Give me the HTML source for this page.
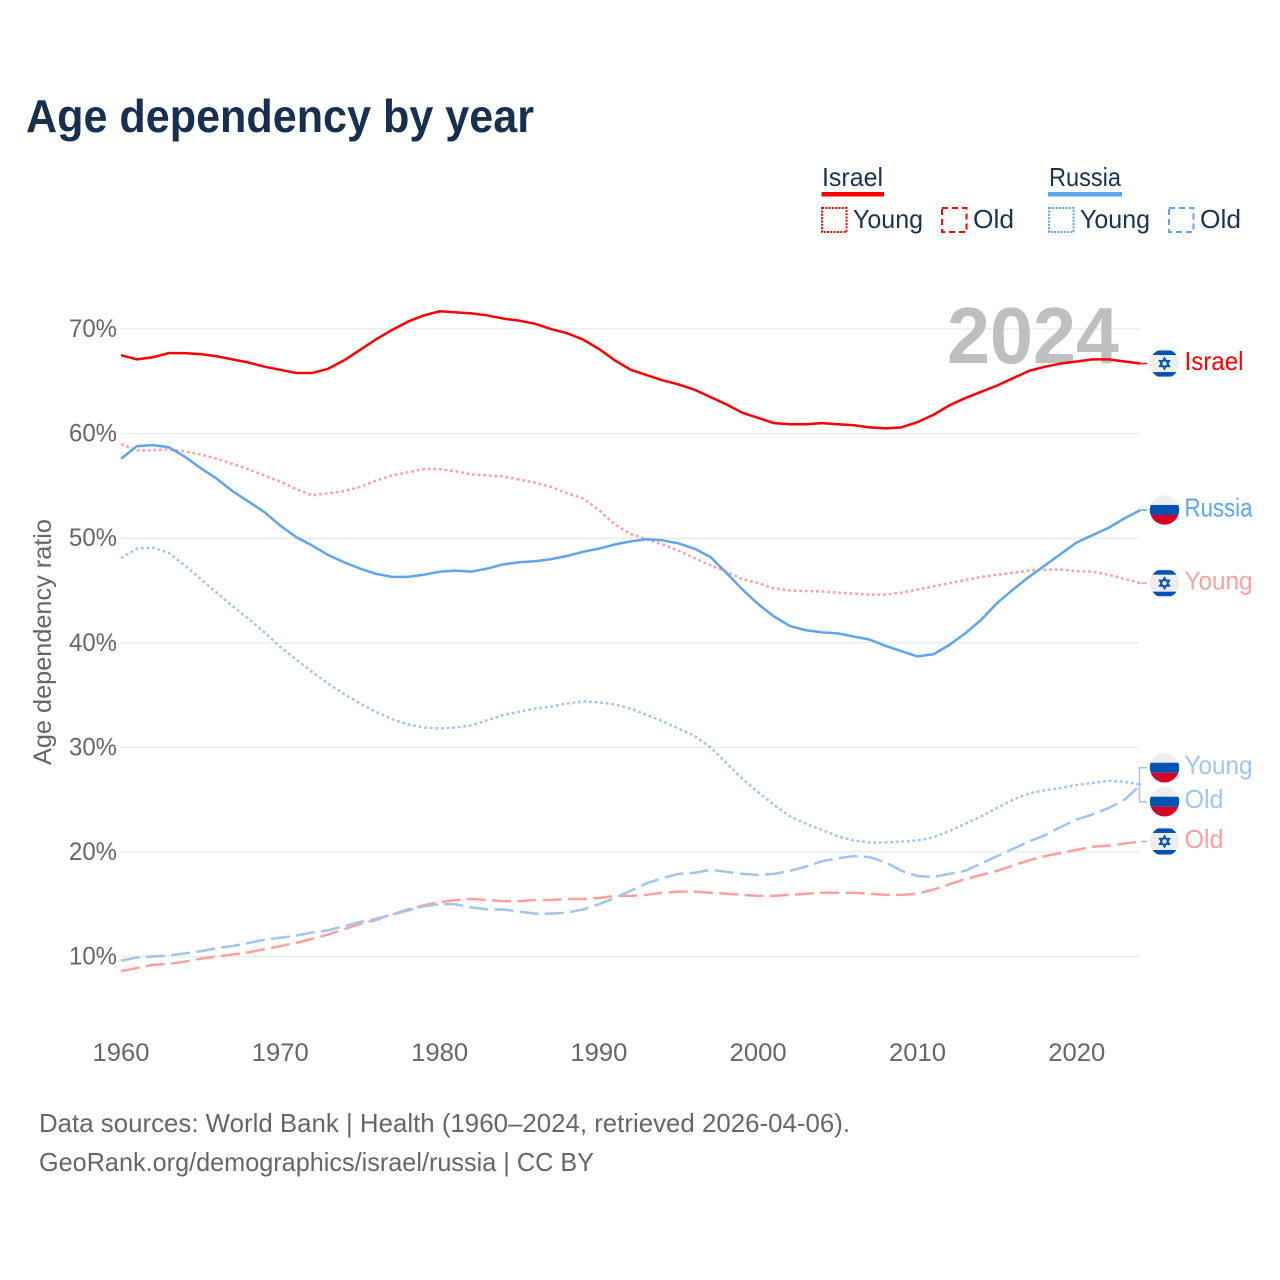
<!DOCTYPE html>
<html lang="en">
<head>
<meta charset="utf-8">
<title>Age dependency by year</title>
<style>
  html, body { margin: 0; padding: 0; background: #fff; }
  svg { display: block; font-family: "Liberation Sans", sans-serif; }
</style>
</head>
<body>
<svg id="chart" xmlns="http://www.w3.org/2000/svg" width="1280" height="1280" viewBox="0 0 1280 1280">
  <defs>
    <clipPath id="flag-clip"><circle cx="0" cy="0" r="14.7"/></clipPath>
  </defs>
  <rect x="0" y="0" width="1280" height="1280" fill="#fff"/>
  <text x="26" y="132" font-size="46" font-weight="700" fill="#17304f" textLength="508" lengthAdjust="spacingAndGlyphs">Age dependency by year</text>

  <g>
    <g>
      <text x="822" y="186" font-size="26" fill="#1a3352" textLength="61" lengthAdjust="spacingAndGlyphs">Israel</text>
      <rect x="821.5" y="192" width="62.5" height="4.5" fill="#ff0000"/>
      <rect x="822" y="208" width="24.5" height="24" fill="none" stroke="#ff0000" stroke-width="2" stroke-dasharray="2 1.3"/>
      <text x="853" y="228" font-size="26" fill="#1a3352" textLength="70" lengthAdjust="spacingAndGlyphs">Young</text>
      <rect x="942" y="208" width="24.5" height="24" fill="none" stroke="#ff0000" stroke-width="2" stroke-dasharray="6 4"/>
      <text x="973" y="228" font-size="26" fill="#1a3352" textLength="41" lengthAdjust="spacingAndGlyphs">Old</text>
    </g>
    <g>
      <text x="1049" y="186" font-size="26" fill="#1a3352" textLength="72" lengthAdjust="spacingAndGlyphs">Russia</text>
      <rect x="1048" y="192" width="74" height="4.5" fill="#5ea5ee"/>
      <rect x="1049" y="208" width="24.5" height="24" fill="none" stroke="#5ea5ee" stroke-width="2" stroke-dasharray="2 1.3"/>
      <text x="1080" y="228" font-size="26" fill="#1a3352" textLength="70" lengthAdjust="spacingAndGlyphs">Young</text>
      <rect x="1169" y="208" width="24.5" height="24" fill="none" stroke="#5ea5ee" stroke-width="2" stroke-dasharray="6 4"/>
      <text x="1200" y="228" font-size="26" fill="#1a3352" textLength="41" lengthAdjust="spacingAndGlyphs">Old</text>
    </g>
  </g>

  <g id="grid"></g>
  <text id="year-watermark" x="947" y="363" font-size="80" font-weight="700" fill="#bfbfbf" textLength="172" lengthAdjust="spacingAndGlyphs">2024</text>
  <g id="y-axis"></g>
  <g id="x-axis"></g>
  <text transform="translate(51 642) rotate(-90)" text-anchor="middle" font-size="25" fill="#666" textLength="246" lengthAdjust="spacingAndGlyphs">Age dependency ratio</text>
  <g id="series"></g>
  <g id="labels"></g>

  <text x="39" y="1132" font-size="26" fill="#666" textLength="811" lengthAdjust="spacingAndGlyphs">Data sources: World Bank | Health (1960–2024, retrieved 2026-04-06).</text>
  <text x="39" y="1171" font-size="26" fill="#666" textLength="555" lengthAdjust="spacingAndGlyphs">GeoRank.org/demographics/israel/russia | CC BY</text>
</svg>
<script>
const startYear = 1960;
const xTickYears = [1960, 1970, 1980, 1990, 2000, 2010, 2020];
const yTickValues = [10, 20, 30, 40, 50, 60, 70];

const israelTotal = [67.5,67.1,67.3,67.7,67.7,67.6,67.4,67.1,66.8,66.4,66.1,65.8,65.8,66.2,67.0,68.0,69.0,69.9,70.7,71.3,71.7,71.6,71.5,71.3,71.0,70.8,70.5,70.0,69.6,69.0,68.1,67.0,66.1,65.6,65.1,64.7,64.2,63.5,62.8,62.0,61.5,61.0,60.9,60.9,61.0,60.9,60.8,60.6,60.5,60.6,61.1,61.8,62.7,63.4,64.0,64.6,65.3,66.0,66.4,66.7,66.9,67.1,67.1,66.9,66.7];
const israelYoung = [59.0,58.4,58.4,58.5,58.3,58.0,57.6,57.1,56.6,56.0,55.4,54.7,54.1,54.3,54.5,54.9,55.5,56.0,56.3,56.6,56.6,56.4,56.1,56.0,55.9,55.6,55.3,54.9,54.3,53.8,52.7,51.3,50.4,49.9,49.4,48.8,48.1,47.4,46.8,46.1,45.7,45.2,45.0,44.95,44.9,44.8,44.7,44.6,44.6,44.8,45.1,45.4,45.7,46.0,46.3,46.5,46.7,46.9,47.0,47.0,46.85,46.8,46.5,46.1,45.7];
const israelOld = [8.6,8.9,9.2,9.3,9.5,9.8,10.0,10.2,10.4,10.7,11.0,11.3,11.7,12.1,12.6,13.1,13.5,14.0,14.5,14.9,15.2,15.4,15.5,15.4,15.3,15.3,15.4,15.4,15.5,15.5,15.6,15.8,15.8,15.9,16.1,16.2,16.2,16.1,16.0,15.9,15.8,15.8,15.9,16.0,16.1,16.1,16.1,16.0,15.9,15.9,16.0,16.4,16.9,17.4,17.8,18.2,18.7,19.2,19.6,19.9,20.2,20.5,20.6,20.8,21.0];
const russiaTotal = [57.6,58.8,58.9,58.7,57.8,56.7,55.7,54.5,53.5,52.5,51.2,50.1,49.3,48.4,47.7,47.1,46.6,46.3,46.3,46.5,46.8,46.9,46.8,47.1,47.5,47.7,47.8,48.0,48.3,48.7,49.0,49.4,49.7,49.9,49.8,49.5,49.0,48.2,46.7,45.1,43.7,42.5,41.6,41.2,41.0,40.9,40.6,40.3,39.7,39.2,38.7,38.9,39.8,40.9,42.2,43.8,45.1,46.3,47.4,48.5,49.6,50.3,51.0,51.9,52.7];
const russiaYoung = [48.1,49.0,49.1,48.6,47.4,46.1,44.8,43.5,42.3,41.0,39.6,38.4,37.2,36.1,35.1,34.2,33.4,32.7,32.2,31.9,31.8,31.9,32.1,32.6,33.1,33.4,33.7,33.9,34.2,34.4,34.3,34.1,33.7,33.1,32.5,31.8,31.1,30.0,28.5,27.0,25.7,24.5,23.4,22.7,22.1,21.5,21.1,20.9,20.9,21.0,21.1,21.4,22.0,22.7,23.4,24.2,25.0,25.6,25.9,26.1,26.4,26.6,26.8,26.7,26.45];
const russiaOld = [9.6,9.9,10.0,10.1,10.3,10.5,10.8,11.0,11.3,11.6,11.8,12.0,12.3,12.5,12.9,13.3,13.6,14.0,14.4,14.8,15.0,15.0,14.7,14.5,14.5,14.3,14.1,14.1,14.2,14.5,15.0,15.6,16.3,17.0,17.5,17.9,18.0,18.3,18.1,17.9,17.8,17.9,18.2,18.6,19.1,19.4,19.6,19.5,19.0,18.2,17.7,17.6,17.9,18.2,18.9,19.6,20.3,21.0,21.6,22.4,23.1,23.6,24.2,25.0,26.4];

const NS = 'http://www.w3.org/2000/svg';
const xScale = function (year) { return 121 + (year - 1960) * 15.93; };
const yScale = function (value) { return 1061.1 - value * 10.458; };

function svgEl(tag, parent) {
  const el = document.createElementNS(NS, tag);
  parent.appendChild(el);
  return el;
}

const grid = document.getElementById('grid');
const yAxis = document.getElementById('y-axis');
const xAxis = document.getElementById('x-axis');
const seriesLayer = document.getElementById('series');
const labelLayer = document.getElementById('labels');

yTickValues.forEach(function (v) {
  const line = svgEl('line', grid);
  
  
  line.setAttribute('x1', 121);
  line.setAttribute('x2', 1139);
  line.setAttribute('y1', yScale(v));
  line.setAttribute('y2', yScale(v));
  line.setAttribute('stroke', '#ececec');
  line.setAttribute('stroke-width', 1.5);
  const t = svgEl('text', yAxis);
  
  
  t.setAttribute('x', 69);
  t.setAttribute('y', yScale(v) + 8);
  t.setAttribute('font-size', 25);
  t.setAttribute('fill', '#666');
  t.setAttribute('textLength', 48);
  t.setAttribute('lengthAdjust', 'spacingAndGlyphs');
  t.textContent = v + '%';
});

xTickYears.forEach(function (yr) {
  const t = svgEl('text', xAxis);
  
  
  t.setAttribute('x', xScale(yr));
  t.setAttribute('y', 1061);
  t.setAttribute('font-size', 25);
  t.setAttribute('fill', '#666');
  t.setAttribute('text-anchor', 'middle');
  t.setAttribute('textLength', 57);
  t.setAttribute('lengthAdjust', 'spacingAndGlyphs');
  t.textContent = String(yr);
});

const seriesList = [
  { key: 'israel-old', values: israelOld, color: '#ff9f9f', dash: '19 6.3', label: 'Old', country: 'israel', len: 39 },
  { key: 'russia-old', values: russiaOld, color: '#9fc5f0', dash: '19 6.3', label: 'Old', country: 'russia', len: 39 },
  { key: 'israel-young', values: israelYoung, color: '#ff9f9f', dash: '2.8 2.8', label: 'Young', country: 'israel', len: 68 },
  { key: 'russia-young', values: russiaYoung, color: '#9fc5f0', dash: '2.8 2.8', label: 'Young', country: 'russia', len: 68 },
  { key: 'russia-total', values: russiaTotal, color: '#5ea5ee', dash: '', label: 'Russia', country: 'russia', len: 68 },
  { key: 'israel-total', values: israelTotal, color: '#ff0000', dash: '', label: 'Israel', country: 'israel', len: 59 }
];

seriesList.forEach(function (s) {
  const path = svgEl('path', seriesLayer);
  
  
  path.setAttribute('fill', 'none');
  path.setAttribute('stroke', s.color);
  path.setAttribute('stroke-width', 2.5);
  path.setAttribute('stroke-linejoin', 'round');
  if (s.dash) { path.setAttribute('stroke-dasharray', s.dash); }
  path.setAttribute('d', s.values.map(function (v, i) {
    return (i ? 'L' : 'M') + xScale(startYear + i).toFixed(2) + ' ' + yScale(v).toFixed(2);
  }).join(' '));
});

/* End labels: start at each series' last value, then push apart any that overlap */
const placed = seriesList.map(function (s) {
  const dataY = yScale(s.values[s.values.length - 1]);
  return { s: s, dataY: dataY, y: dataY };
}).sort(function (a, b) { return a.dataY - b.dataY; });

for (let i = 1; i < placed.length; i++) {
  const gap = placed[i].y - placed[i - 1].y;
  if (gap < 34) {
    const shift = (34 - gap) / 2;
    placed[i - 1].y -= shift;
    placed[i].y += shift;
  }
}

function drawFlag(parent, country, cy) {
  const g = svgEl('g', parent);
  
  
  g.setAttribute('transform', 'translate(1164.5 ' + cy + ')');
  const inner = svgEl('g', g);
  inner.setAttribute('clip-path', 'url(#flag-clip)');
  const bg = svgEl('rect', inner);
  bg.setAttribute('x', -15);
  bg.setAttribute('y', -15);
  bg.setAttribute('width', 30);
  bg.setAttribute('height', 30);
  bg.setAttribute('fill', '#eeeeee');
  if (country === 'russia') {
    const blue = svgEl('rect', inner);
    blue.setAttribute('x', -15);
    blue.setAttribute('y', -5);
    blue.setAttribute('width', 30);
    blue.setAttribute('height', 10);
    blue.setAttribute('fill', '#0052b4');
    const red = svgEl('rect', inner);
    red.setAttribute('x', -15);
    red.setAttribute('y', 5);
    red.setAttribute('width', 30);
    red.setAttribute('height', 10);
    red.setAttribute('fill', '#d80027');
  } else {
    [-13, 8.5].forEach(function (top) {
      const band = svgEl('rect', inner);
      band.setAttribute('x', -15);
      band.setAttribute('y', top);
      band.setAttribute('width', 30);
      band.setAttribute('height', 4.5);
      band.setAttribute('fill', '#0052b4');
    });
    ['0,-5.6 4.9,2.8 -4.9,2.8', '0,5.6 4.9,-2.8 -4.9,-2.8'].forEach(function (pts) {
      const tri = svgEl('polygon', inner);
      tri.setAttribute('points', pts);
      tri.setAttribute('fill', 'none');
      tri.setAttribute('stroke', '#0052b4');
      tri.setAttribute('stroke-width', 1.5);
    });
  }
}

placed.forEach(function (p) {
  const leader = svgEl('path', labelLayer);
  
  
  leader.setAttribute('fill', 'none');
  leader.setAttribute('stroke', p.s.color);
  leader.setAttribute('stroke-width', 1.5);
  if (Math.abs(p.y - p.dataY) > 3) {
    leader.setAttribute('d', 'M1141 ' + p.dataY + ' H1139.5 V' + p.y + ' H1147');
  } else {
    leader.setAttribute('d', 'M1141 ' + p.dataY + ' L1147 ' + p.y);
  }
  drawFlag(labelLayer, p.s.country, p.y);
  const t = svgEl('text', labelLayer);
  
  
  t.setAttribute('x', 1184.5);
  t.setAttribute('y', p.y + 6.5);
  t.setAttribute('font-size', 26);
  t.setAttribute('fill', p.s.color);
  t.setAttribute('textLength', p.s.len);
  t.setAttribute('lengthAdjust', 'spacingAndGlyphs');
  t.textContent = p.s.label;
});
</script>
</body>
</html>
